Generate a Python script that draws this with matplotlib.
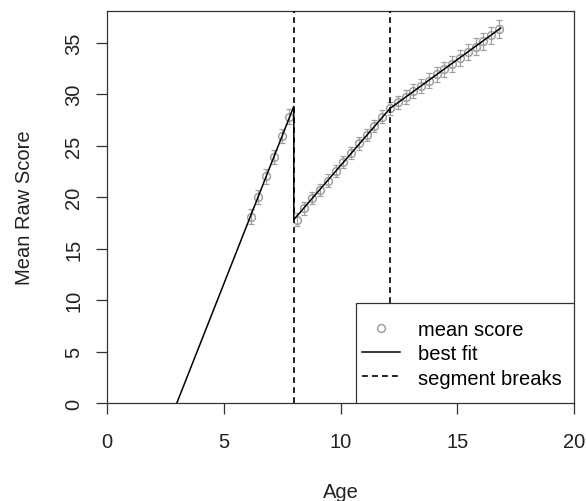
import matplotlib.pyplot as plt
from matplotlib.patches import Rectangle

plt.rcParams['font.family'] = ['Liberation Sans', 'DejaVu Sans']

# mean raw score by age
ages = [6.15, 6.48, 6.82, 7.15, 7.48, 7.81,
        8.12, 8.45, 8.79, 9.12, 9.45, 9.79, 10.12, 10.45, 10.79, 11.12, 11.45, 11.79,
        12.12, 12.45, 12.79, 13.12, 13.45, 13.79, 14.12, 14.45, 14.79, 15.12, 15.45,
        15.79, 16.12, 16.45, 16.79]
mean_score = [18.1, 20.0, 22.0, 23.9, 25.9, 27.8,
              17.8, 18.9, 19.9, 20.7, 21.6, 22.5, 23.4, 24.3, 25.2, 26.0, 26.9, 27.8,
              28.6, 29.2, 29.7, 30.3, 30.8, 31.3, 31.9, 32.4, 32.9, 33.5, 34.1,
              34.6, 35.1, 35.7, 36.3]
score_err = [0.7, 0.7, 0.7, 0.7, 0.7, 0.7,
             0.6, 0.6, 0.6, 0.6, 0.6, 0.6, 0.6, 0.6, 0.6, 0.6, 0.6, 0.6,
             0.65, 0.65, 0.65, 0.7, 0.7, 0.7, 0.7, 0.75, 0.75, 0.75, 0.8,
             0.8, 0.85, 0.85, 0.9]

# piecewise best fit (clipped by the axes at y = 0)
fit_x = [0, 8, 8, 12.12, 16.86]
fit_y = [-17.2, 28.8, 17.8, 28.6, 36.4]
breaks = [8, 12.12]

fig = plt.figure(figsize=(5.86, 5.02), dpi=100)
ax = fig.add_axes([107/586, 1 - 404/502, (574 - 107)/586, (404 - 12)/502])

ax.errorbar(ages, mean_score, yerr=score_err, fmt='none', ecolor='#a0a0a0',
            elinewidth=0.9, capsize=2, capthick=0.9, zorder=2)
ax.plot(ages, mean_score, 'o', mfc='none', mec='#a0a0a0', mew=1.1, ms=5.6,
        label='mean score', zorder=3)
ax.plot(fit_x, fit_y, color='black', lw=1.1, label='best fit', zorder=4)
for i, b in enumerate(breaks):
    ax.axvline(b, color='black', lw=1.2, ls=(0, (3.5, 2.5)),
               label='segment breaks' if i == 0 else None, zorder=4)

ax.set_xlim(0, 20)
ax.set_ylim(0, 38.06)
ax.set_xticks([0, 5, 10, 15, 20])
ax.set_yticks([0, 5, 10, 15, 20, 25, 30, 35])
ax.tick_params(direction='out', length=8, width=0.9, labelsize=14.5,
               color='#333333', labelcolor='#222222')
ax.tick_params(axis='x', pad=12.6)
ax.tick_params(axis='y', pad=9)
for lbl in ax.get_yticklabels():
    lbl.set_rotation(90)
    lbl.set_va('center')
for sp in ax.spines.values():
    sp.set_linewidth(0.9)
    sp.set_color('#333333')

ax.set_xlabel('Age', fontsize=14.5, labelpad=22.5, color='#222222')
ax.set_ylabel('Mean Raw Score', fontsize=14.5, labelpad=22, color='#222222')

# legend box in the lower right corner, R style
ax.add_patch(Rectangle((0.533, 0), 0.467, 0.255, transform=ax.transAxes,
                       facecolor='white', edgecolor='#333333', lw=0.9, zorder=5))
leg = ax.legend(loc='center left', bbox_to_anchor=(0.546, 0.126), borderaxespad=0,
                frameon=False, fontsize=14.5, handlelength=1.9, handletextpad=0.9,
                labelspacing=0.27, borderpad=0)
leg.set_zorder(6)

fig.savefig('out.png', dpi=100)
